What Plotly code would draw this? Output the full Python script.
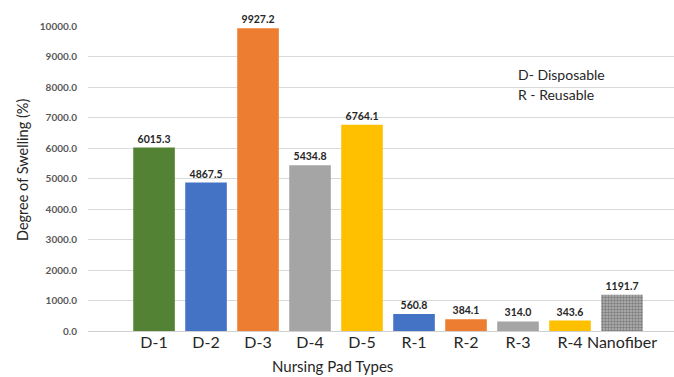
import plotly.graph_objects as go

categories = ["D-1", "D-2", "D-3", "D-4", "D-5", "R-1", "R-2", "R-3", "R-4", "Nanofiber"]
swelling = [6015.3, 4867.5, 9927.2, 5434.8, 6764.1, 560.8, 384.1, 314.0, 343.6, 1191.7]
bar_colors = ["#548235", "#4472C4", "#ED7D31", "#A5A5A5", "#FFC000",
              "#4472C4", "#ED7D31", "#A5A5A5", "#FFC000", "#B4B4B4"]
y_ticks = [i * 1000 for i in range(11)]

FONT = "Lato, Open Sans, sans-serif"

# speckled texture only on the nanofiber bar
shapes = ["" for _ in categories]
shapes[-1] = "."

fig = go.Figure()
fig.add_trace(go.Bar(
    x=categories,
    y=swelling,
    width=0.8,
    marker=dict(
        color=bar_colors,
        line=dict(width=0),
        pattern=dict(shape=shapes, fgcolor="#666666", bgcolor="#d2d2d2",
                     size=3, solidity=0.5, fillmode="overlay"),
    ),
    text=[f"{v:.1f}" for v in swelling],
    textposition="outside",
    textfont=dict(family=FONT, size=10.5, color="#262626", weight="bold"),
    cliponaxis=False,
))

fig.update_layout(
    width=674, height=377,
    margin=dict(l=88, r=0, t=26, b=46),
    plot_bgcolor="white", paper_bgcolor="white",
    showlegend=False,
    font=dict(family=FONT),
    xaxis=dict(
        range=[-1.27, 10.0],
        showgrid=False, showline=False, zeroline=False, ticks="",
        tickfont=dict(family=FONT, size=16, color="#262626"),
    ),
    yaxis=dict(
        range=[0, 10000],
        tickvals=y_ticks,
        ticktext=[f"{v:.1f}" for v in y_ticks],
        tickfont=dict(family=FONT, size=10, color="#595959", weight="bold"),
        showgrid=True, gridcolor="#D9D9D9", gridwidth=1,
        zeroline=True, zerolinecolor="#D0D0D0", zerolinewidth=1,
        showline=False, ticks="", ticklabelstandoff=10,
    ),
    annotations=[
        dict(text="Degree of Swelling (%)", xref="paper", yref="paper",
             x=-0.113, y=0.527, xanchor="center", yanchor="middle",
             textangle=-90, showarrow=False,
             font=dict(family=FONT, size=14.5, color="#262626")),
        dict(text="Nursing Pad Types", xref="paper", yref="paper",
             x=0.418, y=0, yshift=-46, xanchor="center", yanchor="bottom",
             showarrow=False,
             font=dict(family=FONT, size=15, color="#262626")),
        dict(text="D- Disposable", xref="paper", yref="paper",
             x=0.73, y=0.84, xanchor="left", yanchor="middle",
             showarrow=False,
             font=dict(family=FONT, size=14, color="#262626")),
        dict(text="R - Reusable", xref="paper", yref="paper",
             x=0.73, y=0.775, xanchor="left", yanchor="middle",
             showarrow=False,
             font=dict(family=FONT, size=14, color="#262626")),
    ],
)

fig.write_html("out.html")
